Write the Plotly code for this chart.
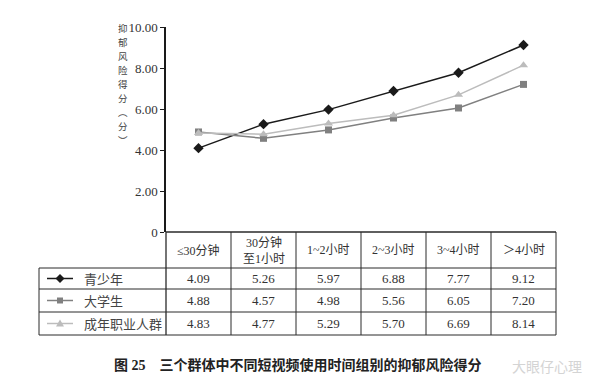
import plotly.graph_objects as go

categories = ["≤30分钟", "30分钟<br>至1小时", "1~2小时", "2~3小时", "3~4小时", "＞4小时"]
series_names = ["青少年", "大学生", "成年职业人群"]
teen = [4.09, 5.26, 5.97, 6.88, 7.77, 9.12]
college = [4.88, 4.57, 4.98, 5.56, 6.05, 7.20]
adult = [4.83, 4.77, 5.29, 5.70, 6.69, 8.14]
tick_vals = [0, 2, 4, 6, 8, 10]
tick_text = ["0", "2.00", "4.00", "6.00", "8.00", "10.00"]
y_title_chars = ["抑", "郁", "风", "险", "得", "分", "︵", "分", "︶"]
caption = "图 25　三个群体中不同短视频使用时间组别的抑郁风险得分"

W, H = 600, 382
L, R, T, B = 166, 556, 27, 232
PW, PH = R - L, B - T

def px(x):
    return (x - L) / PW

def py(y):
    return (B - y) / PH

SERIF = "Liberation Serif, Noto Sans CJK SC"
CJK = "Noto Sans CJK SC"

styles = [
    dict(color="#1a1a1a", symbol="diamond", size=8,
         path="M 0,4.5 L 4.5,0 L 0,-4.5 L -4.5,0 Z"),
    dict(color="#808080", symbol="square", size=7,
         path="M -3,-3 L 3,-3 L 3,3 L -3,3 Z"),
    dict(color="#bcbcbc", symbol="triangle-up", size=8,
         path="M -4,-3 L 4,-3 L 0,4 Z"),
]
all_series = [teen, college, adult]
xs = list(range(len(categories)))

fig = go.Figure()
for name, vals, st in zip(series_names, all_series, styles):
    fig.add_trace(go.Scatter(
        x=xs, y=vals, mode="lines+markers", name=name,
        line=dict(color=st["color"], width=1.5),
        marker=dict(color=st["color"], symbol=st["symbol"], size=st["size"]),
        showlegend=False, cliponaxis=False,
    ))

shapes = []
line_c = "#2a2a2a"
shapes.append(dict(type="line", xref="paper", yref="paper", x0=px(L), x1=px(L), y0=py(B), y1=py(335),
                   line=dict(color=line_c, width=1.3)))
shapes.append(dict(type="line", xref="paper", yref="paper", x0=px(L), x1=px(R), y0=py(B), y1=py(B),
                   line=dict(color=line_c, width=1.3)))
for yy in [268, 289, 312, 335]:
    shapes.append(dict(type="line", xref="paper", yref="paper", x0=px(39), x1=px(R), y0=py(yy), y1=py(yy),
                       line=dict(color=line_c, width=1)))
shapes.append(dict(type="line", xref="paper", yref="paper", x0=px(39), x1=px(39), y0=py(268), y1=py(335),
                   line=dict(color=line_c, width=1)))
for i in range(1, len(categories) + 1):
    xx = L + i * PW / len(categories)
    shapes.append(dict(type="line", xref="paper", yref="paper", x0=px(xx), x1=px(xx), y0=py(B), y1=py(335),
                       line=dict(color=line_c, width=1)))

annotations = []
for i, c in enumerate(categories):
    annotations.append(dict(x=i, y=py(250), xref="x", yref="paper", text=c, showarrow=False,
                            xanchor="center", yanchor="middle",
                            font=dict(family=SERIF, size=12, color="#333"), align="center"))
row_centers = [278.5, 300.5, 323.5]
for name, vals, st, rc in zip(series_names, all_series, styles, row_centers):
    for i, v in enumerate(vals):
        annotations.append(dict(x=i, y=py(rc), xref="x", yref="paper", text=f"{v:.2f}", showarrow=False,
                                xanchor="center", yanchor="middle",
                                font=dict(family=SERIF, size=13, color="#333")))
    annotations.append(dict(x=px(82), y=py(rc), xref="paper", yref="paper", text=name, showarrow=False,
                            xanchor="left", yanchor="middle", font=dict(family=CJK, size=13, color="#444")))
    shapes.append(dict(type="line", xref="paper", yref="paper", x0=px(47), x1=px(73), y0=py(rc), y1=py(rc),
                       line=dict(color=st["color"], width=1.5)))
    shapes.append(dict(type="path", xref="paper", yref="paper", xsizemode="pixel", ysizemode="pixel",
                       xanchor=px(60), yanchor=py(rc), path=st["path"],
                       fillcolor=st["color"], line=dict(width=0)))

for k, ch in enumerate(y_title_chars):
    annotations.append(dict(x=px(123), y=py(28 + k * 14.0), xref="paper", yref="paper", text=ch,
                            showarrow=False, xanchor="center", yanchor="middle",
                            font=dict(family=CJK, size=9.5, color="#444")))

annotations.append(dict(x=px(298), y=py(365), xref="paper", yref="paper", text="<b>" + caption + "</b>",
                        showarrow=False, xanchor="center", yanchor="middle",
                        font=dict(family="Liberation Serif, Noto Sans CJK SC", size=14, color="#222")))
annotations.append(dict(x=px(547), y=py(366), xref="paper", yref="paper", text="大眼仔心理",
                        showarrow=False, xanchor="center", yanchor="middle",
                        font=dict(family=CJK, size=14, color="#d4d4d4")))

fig.update_layout(
    width=W, height=H,
    margin=dict(l=L, r=W - R, t=T, b=H - B, pad=0),
    paper_bgcolor="white", plot_bgcolor="white",
    xaxis=dict(range=[-0.5, len(categories) - 0.5], showgrid=False, zeroline=False, showline=False,
               showticklabels=False, ticks=""),
    yaxis=dict(range=[0, 10], tickvals=tick_vals, ticktext=tick_text, showgrid=False, zeroline=False,
               showline=True, linecolor="#1a1a1a", linewidth=1.5, ticks="outside", ticklen=4,
               tickcolor="#1a1a1a", tickwidth=1.2,
               tickfont=dict(family="Liberation Serif", size=13, color="#333")),
    shapes=shapes, annotations=annotations,
)

fig.write_html("out.html", config={"displayModeBar": False},
               post_script="document.body.style.margin='0';")
